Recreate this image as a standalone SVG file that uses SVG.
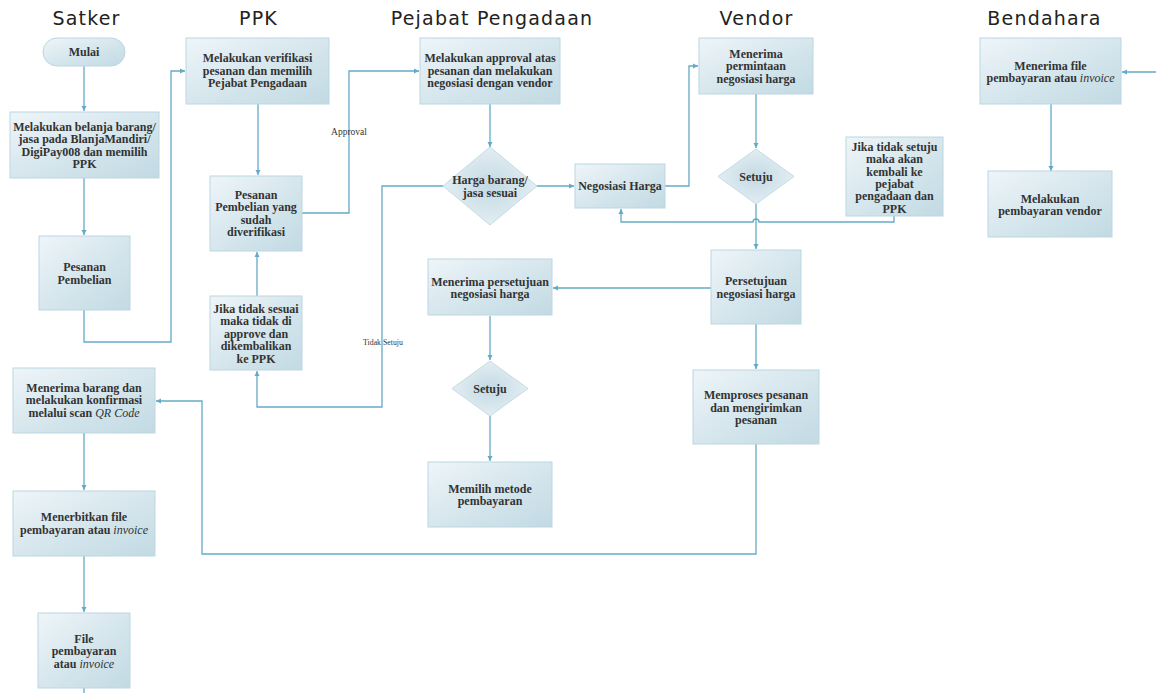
<svg xmlns="http://www.w3.org/2000/svg" width="1156" height="693" viewBox="0 0 1156 693">
<style>
.title{font-family:"DejaVu Sans",sans-serif;font-size:19px;letter-spacing:1.2px;fill:#222;text-anchor:middle}
.box{fill:url(#g);stroke:#bcd6e2;stroke-width:1}
.dia{fill:url(#rg);stroke:#c4dbe5;stroke-width:1}
.t{font-family:"Liberation Serif","Times New Roman",serif;font-size:12px;font-weight:bold;fill:#333;text-anchor:middle}
.i{font-style:italic;font-weight:normal}
.c{fill:none;stroke:#64aac6;stroke-width:1.3}
.lbl{font-family:"Liberation Serif",serif;font-size:9.5px;fill:#333;text-anchor:middle}
</style>
<defs>
<linearGradient id="g" x1="0" y1="0" x2="1" y2="1">
<stop offset="0" stop-color="#eef5f9"/>
<stop offset="0.6" stop-color="#d2e4eb"/>
<stop offset="1" stop-color="#c2dae4"/>
</linearGradient>
<radialGradient id="rg" cx="0.5" cy="0.5" r="0.6">
<stop offset="0" stop-color="#c3d9e3"/>
<stop offset="1" stop-color="#e9f2f6"/>
</radialGradient>
<marker id="a" markerWidth="6" markerHeight="6" refX="5" refY="3" orient="auto" markerUnits="userSpaceOnUse">
<path d="M0,0.5 L5,3 L0,5.5 z" fill="#64aac6"/>
</marker>
</defs>
<rect width="1156" height="693" fill="#fff"/>

<g id="titles">
<text class="title" x="86.5" y="25">Satker</text>
<text class="title" x="258.5" y="25">PPK</text>
<text class="title" x="492" y="25">Pejabat Pengadaan</text>
<text class="title" x="756.5" y="25">Vendor</text>
<text class="title" x="1044.5" y="25">Bendahara</text>
</g>

<g id="connectors">
<path class="c" d="M84,66 V111" marker-end="url(#a)"/>
<path class="c" d="M84,178 V235" marker-end="url(#a)"/>
<path class="c" d="M84,310 V342 H171 V71 H185" marker-end="url(#a)"/>
<path class="c" d="M258,104 V175" marker-end="url(#a)"/>
<path class="c" d="M302,213 H349 V71 H419" marker-end="url(#a)"/>
<path class="c" d="M490,104 V147" marker-end="url(#a)"/>
<path class="c" d="M537,186 H574" marker-end="url(#a)"/>
<path class="c" d="M443,186 H382 V407 H257 V371" marker-end="url(#a)"/>
<path class="c" d="M257,296 V252" marker-end="url(#a)"/>
<path class="c" d="M665,186 H689 V66 H698" marker-end="url(#a)"/>
<path class="c" d="M756,94 V148" marker-end="url(#a)"/>
<path class="c" d="M756,204 V249" marker-end="url(#a)"/>
<path class="c" d="M894,216 V222 H759 A3,3 0 0 0 753,222 H621 V209" marker-end="url(#a)"/>
<path class="c" d="M711,288 H553" marker-end="url(#a)"/>
<path class="c" d="M490,316 V360" marker-end="url(#a)"/>
<path class="c" d="M490,416 V461" marker-end="url(#a)"/>
<path class="c" d="M756,324 V369" marker-end="url(#a)"/>
<path class="c" d="M756,444 V554 H202 V401 H156" marker-end="url(#a)"/>
<path class="c" d="M84,433 V490" marker-end="url(#a)"/>
<path class="c" d="M84,556 V612" marker-end="url(#a)"/>
<path class="c" d="M84,688 V693"/>
<path class="c" d="M1156,72 H1122" marker-end="url(#a)"/>
<path class="c" d="M1051,104 V171" marker-end="url(#a)"/>
<text class="lbl" x="349" y="135">Approval</text>
<text class="lbl" x="383" y="345" style="font-size:7.8px">Tidak Setuju</text>
</g>

<g id="mulai">
<rect class="box" x="43" y="38" width="82" height="28" rx="14"/>
<text class="t" x="84" y="56">Mulai</text>
</g>
<g id="belanja">
<rect class="box" x="10" y="112" width="149" height="66"/>
<text class="t" x="84.5" y="130.5">Melakukan belanja barang/</text>
<text class="t" x="84.5" y="143">jasa pada BlanjaMandiri/</text>
<text class="t" x="84.5" y="155.5">DigiPay008 dan memilih</text>
<text class="t" x="84.5" y="168">PPK</text>
</g>
<g id="pesanan">
<rect class="box" x="39" y="236" width="91" height="74"/>
<text class="t" x="84.5" y="270.5">Pesanan</text>
<text class="t" x="84.5" y="283.5">Pembelian</text>
</g>
<g id="menerima-barang">
<rect class="box" x="13" y="368" width="142" height="65"/>
<text class="t" x="84" y="391.5">Menerima barang dan</text>
<text class="t" x="84" y="404">melakukan konfirmasi</text>
<text class="t" x="84" y="416.5">melalui scan <tspan class="i">QR Code</tspan></text>
</g>
<g id="menerbitkan">
<rect class="box" x="13" y="491" width="142" height="65"/>
<text class="t" x="84" y="521">Menerbitkan file</text>
<text class="t" x="84" y="533.5">pembayaran atau <tspan class="i">invoice</tspan></text>
</g>
<g id="file-pembayaran">
<rect class="box" x="38" y="613" width="92" height="75"/>
<text class="t" x="84" y="642.5">File</text>
<text class="t" x="84" y="655">pembayaran</text>
<text class="t" x="84" y="667.5">atau <tspan class="i">invoice</tspan></text>
</g>

<g id="verifikasi">
<rect class="box" x="186" y="38" width="143" height="66"/>
<text class="t" x="257.5" y="62">Melakukan verifikasi</text>
<text class="t" x="257.5" y="74.5">pesanan dan memilih</text>
<text class="t" x="257.5" y="87">Pejabat Pengadaan</text>
</g>
<g id="pesanan-verif">
<rect class="box" x="210" y="176" width="92" height="75"/>
<text class="t" x="256" y="198.5">Pesanan</text>
<text class="t" x="256" y="211">Pembelian yang</text>
<text class="t" x="256" y="223.5">sudah</text>
<text class="t" x="256" y="236">diverifikasi</text>
</g>
<g id="tidak-sesuai">
<rect class="box" x="210" y="296" width="92" height="74"/>
<text class="t" x="256" y="312.5">Jika tidak sesuai</text>
<text class="t" x="256" y="325">maka tidak di</text>
<text class="t" x="256" y="337.5">approve dan</text>
<text class="t" x="256" y="350">dikembalikan</text>
<text class="t" x="256" y="362.5">ke PPK</text>
</g>

<g id="approval">
<rect class="box" x="420" y="38" width="140" height="66"/>
<text class="t" x="490" y="62">Melakukan approval atas</text>
<text class="t" x="490" y="74.5">pesanan dan melakukan</text>
<text class="t" x="490" y="87">negosiasi dengan vendor</text>
</g>
<g id="harga-sesuai">
<polygon class="dia" points="490,147 537,186 490,225 443,186"/>
<text class="t" x="490" y="184">Harga barang/</text>
<text class="t" x="490" y="196.5">jasa sesuai</text>
</g>
<g id="menerima-persetujuan">
<rect class="box" x="428" y="259" width="124" height="56"/>
<text class="t" x="490" y="285.5">Menerima persetujuan</text>
<text class="t" x="490" y="298">negosiasi harga</text>
</g>
<g id="setuju-pp">
<polygon class="dia" points="490,361 528,388.5 490,416 452,388.5"/>
<text class="t" x="490" y="392.5">Setuju</text>
</g>
<g id="metode">
<rect class="box" x="428" y="462" width="124" height="65"/>
<text class="t" x="490" y="492.5">Memilih metode</text>
<text class="t" x="490" y="505">pembayaran</text>
</g>

<g id="negosiasi">
<rect class="box" x="575" y="164" width="90" height="44"/>
<text class="t" x="620" y="190">Negosiasi Harga</text>
</g>
<g id="permintaan">
<rect class="box" x="699" y="38" width="114" height="56"/>
<text class="t" x="756" y="57.5">Menerima</text>
<text class="t" x="756" y="70">permintaan</text>
<text class="t" x="756" y="82.5">negosiasi harga</text>
</g>
<g id="setuju-vendor">
<polygon class="dia" points="756,149 794,176.5 756,204 718,176.5"/>
<text class="t" x="756" y="181">Setuju</text>
</g>
<g id="tidak-setuju">
<rect class="box" x="846" y="137" width="97" height="79"/>
<text class="t" x="894.5" y="151">Jika tidak setuju</text>
<text class="t" x="894.5" y="163.3">maka akan</text>
<text class="t" x="894.5" y="175.6">kembali ke</text>
<text class="t" x="894.5" y="187.9">pejabat</text>
<text class="t" x="894.5" y="200.2">pengadaan dan</text>
<text class="t" x="894.5" y="212.5">PPK</text>
</g>
<g id="persetujuan">
<rect class="box" x="711" y="250" width="90" height="74"/>
<text class="t" x="756" y="285">Persetujuan</text>
<text class="t" x="756" y="297.5">negosiasi harga</text>
</g>
<g id="memproses">
<rect class="box" x="693" y="370" width="126" height="74"/>
<text class="t" x="756" y="399">Memproses pesanan</text>
<text class="t" x="756" y="411.5">dan mengirimkan</text>
<text class="t" x="756" y="424">pesanan</text>
</g>

<g id="menerima-file">
<rect class="box" x="980" y="38" width="141" height="66"/>
<text class="t" x="1050.5" y="69.5">Menerima file</text>
<text class="t" x="1050.5" y="82">pembayaran atau <tspan class="i">invoice</tspan></text>
</g>
<g id="pembayaran-vendor">
<rect class="box" x="988" y="171" width="124" height="66"/>
<text class="t" x="1050" y="202.5">Melakukan</text>
<text class="t" x="1050" y="215">pembayaran vendor</text>
</g>
</svg>
